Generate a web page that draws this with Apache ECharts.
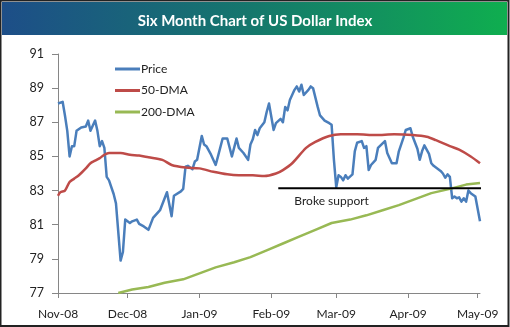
<!DOCTYPE html>
<html>
<head>
<meta charset="utf-8">
<script src="https://cdn.jsdelivr.net/npm/echarts@6/dist/echarts.min.js"></script>
<style>
  html, body { margin: 0; padding: 0; background: #fff; }
  #chart { width: 510px; height: 327px; }
</style>
</head>
<body>
<div id="chart"></div>
<script>
// US Dollar Index, Nov 2008 - May 2009
const priceDates = [
  '2008-11-01','2008-11-03','2008-11-04','2008-11-05','2008-11-06','2008-11-07','2008-11-08','2008-11-09',
  '2008-11-11','2008-11-13','2008-11-14','2008-11-15','2008-11-17','2008-11-18','2008-11-19','2008-11-20',
  '2008-11-21','2008-11-22','2008-11-23','2008-11-25','2008-11-26','2008-11-28','2008-11-29','2008-11-30',
  '2008-12-02','2008-12-03','2008-12-05','2008-12-06','2008-12-08','2008-12-10','2008-12-12','2008-12-15',
  '2008-12-18','2008-12-20','2008-12-21','2008-12-24','2008-12-25','2008-12-26','2008-12-27','2008-12-29',
  '2008-12-30','2008-12-31','2009-01-02','2009-01-03','2009-01-04','2009-01-06','2009-01-08','2009-01-09',
  '2009-01-11','2009-01-13','2009-01-15','2009-01-17','2009-01-18','2009-01-20','2009-01-22','2009-01-23',
  '2009-01-24','2009-01-25','2009-01-26','2009-01-27','2009-01-29','2009-01-30','2009-01-31','2009-02-02',
  '2009-02-03','2009-02-05','2009-02-06','2009-02-07','2009-02-08','2009-02-09','2009-02-11','2009-02-12',
  '2009-02-13','2009-02-14','2009-02-15','2009-02-17','2009-02-18','2009-02-19','2009-02-21','2009-02-22',
  '2009-02-24','2009-02-26','2009-02-27','2009-02-28','2009-03-01','2009-03-02','2009-03-03','2009-03-04',
  '2009-03-05','2009-03-06','2009-03-08','2009-03-09','2009-03-10','2009-03-12','2009-03-13','2009-03-14',
  '2009-03-15','2009-03-16','2009-03-18','2009-03-19','2009-03-22','2009-03-23','2009-03-25','2009-03-27',
  '2009-03-28','2009-03-30','2009-03-31','2009-04-02','2009-04-03','2009-04-05','2009-04-06','2009-04-07',
  '2009-04-08','2009-04-10','2009-04-11','2009-04-12','2009-04-15','2009-04-16','2009-04-17','2009-04-18',
  '2009-04-19','2009-04-20','2009-04-21','2009-04-22','2009-04-23','2009-04-24','2009-04-25','2009-04-26',
  '2009-04-27','2009-04-28','2009-04-30','2009-05-02'
];
const priceValues = [
  88.1, 88.2, 87.4, 86.5, 85.0, 85.6, 85.6, 86.5,
  86.7, 86.75, 87.1, 86.5, 87.1, 86.5, 85.6, 85.9,
  85.5, 83.8, 83.6, 82.8, 82.25, 78.9, 79.4, 81.3,
  81.1, 81.2, 81.3, 81.05, 80.9, 80.7, 81.4, 81.85,
  82.9, 81.5, 82.7, 82.95, 83.1, 84.4, 84.45, 84.25,
  84.7, 84.8, 86.2, 85.7, 85.6, 85.1, 84.5, 85.0,
  86.05, 86.05, 85.0, 86.05, 85.5, 85.2, 84.8, 85.7,
  86.0, 86.55, 86.25, 86.65, 87.0, 87.6, 88.1, 86.55,
  86.95, 87.2, 87.0, 87.9, 87.7, 88.3, 88.9, 89.1,
  88.8, 89.2, 88.6, 88.9, 89.1, 89.0, 87.9, 87.4,
  87.1, 86.95, 86.85, 84.8, 83.2, 83.9, 83.8, 83.6,
  83.9, 83.7, 83.95, 85.3, 85.8, 85.9, 85.5, 85.6,
  84.2, 84.5, 84.8, 85.5, 85.9, 85.2, 84.6, 84.6,
  85.3, 86.1, 86.55, 86.65, 86.15, 85.45, 84.8, 85.3,
  85.65, 85.15, 84.6, 84.45, 84.15, 84.0, 83.75, 83.95,
  83.8, 82.55, 82.65, 82.55, 82.6, 82.35, 82.55, 82.35,
  83.0, 82.85, 82.65, 81.2
];

// 50-day moving average
const dma50Dates = [
  '2008-11-01','2008-11-02','2008-11-04','2008-11-06','2008-11-08','2008-11-10','2008-11-13','2008-11-15',
  '2008-11-17','2008-11-19','2008-11-21','2008-11-23','2008-11-28','2008-12-02','2008-12-06','2008-12-10',
  '2008-12-16','2008-12-20','2008-12-26','2009-01-01','2009-01-07','2009-01-13','2009-01-18','2009-01-24',
  '2009-01-29','2009-02-03','2009-02-06','2009-02-10','2009-02-16','2009-02-20','2009-02-26','2009-03-03',
  '2009-03-10','2009-03-18','2009-03-26','2009-04-03','2009-04-09','2009-04-13','2009-04-19','2009-04-23',
  '2009-04-28','2009-05-02'
];
const dma50Values = [
  82.7, 82.9, 83.0, 83.5, 83.7, 83.9, 84.3, 84.6,
  84.75, 84.9, 85.1, 85.2, 85.2, 85.1, 85.05, 84.95,
  84.8, 84.5, 84.35, 84.3, 84.1, 83.95, 83.9, 83.9,
  83.85, 84.0, 84.2, 84.6, 85.5, 85.85, 86.2, 86.3,
  86.3, 86.25, 86.3, 86.25, 86.15, 85.95, 85.6, 85.4,
  85.0, 84.6
];

// 200-day moving average
const dma200Dates = [
  '2008-11-27','2008-12-03','2008-12-10','2008-12-17','2008-12-25','2009-01-01','2009-01-08','2009-01-16',
  '2009-01-23','2009-01-30','2009-02-06','2009-02-13','2009-02-20','2009-02-27','2009-03-07','2009-03-14',
  '2009-03-21','2009-03-28','2009-04-04','2009-04-11','2009-04-19','2009-04-26','2009-05-02'
];
const dma200Values = [
  77.0, 77.2, 77.35, 77.6, 77.8, 78.15, 78.5, 78.8,
  79.1, 79.5, 79.9, 80.3, 80.7, 81.1, 81.3, 81.55,
  81.85, 82.15, 82.5, 82.85, 83.1, 83.35, 83.45
];

// support level annotation
const supportDates = ['2009-02-04', '2009-05-08'];
const supportLevel = 83.13;
const supportNote = { date: '2009-02-27', value: 82.41, text: 'Broke support' };

const yMin = 77, yMax = 91, yStep = 2;
const xStart = '2008-11-01', xEnd = '2009-05-02';
const monthNames = ['Jan','Feb','Mar','Apr','May','Jun','Jul','Aug','Sep','Oct','Nov','Dec'];

const FONT = 'Lato, "Liberation Sans", sans-serif';
const pair = (ds, vs) => ds.map((d, i) => [d, vs[i]]);

const chart = echarts.init(document.getElementById('chart'), null, { renderer: 'canvas' });

chart.setOption({
  backgroundColor: '#ffffff',
  animation: false,
  graphic: [
    {
      type: 'rect', z: -1,
      shape: { x: 2, y: 2, width: 505, height: 33 },
      style: {
        fill: new echarts.graphic.LinearGradient(0, 0, 1, 0, [
          { offset: 0, color: '#1d4e88' },
          { offset: 0.5, color: '#15786c' },
          { offset: 1, color: '#0fae4f' }
        ])
      }
    },
    {
      type: 'rect', z: 10,
      shape: { x: 0.5, y: 0.5, width: 508, height: 325.5 },
      style: { fill: 'none', stroke: '#222222', lineWidth: 2 }
    }
  ],
  title: {
    text: 'Six Month Chart of US Dollar Index',
    left: 'center', top: 9,
    textStyle: { color: '#ffffff', fontFamily: FONT, fontWeight: 'bold', fontSize: 15 }
  },
  legend: {
    left: 110, top: 58, orient: 'vertical',
    icon: 'path://M0,0 L25,0 L25,3 L0,3 Z',
    symbolKeepAspect: true,
    itemWidth: 25, itemHeight: 14, itemGap: 9.5,
    data: ['Price', '50-DMA', '200-DMA'],
    textStyle: { fontFamily: FONT, fontSize: 12, color: '#222', padding: [0, 0, 0, -4] }
  },
  grid: { left: 58, right: 30, top: 54, bottom: 34, containLabel: false },
  xAxis: {
    type: 'time',
    min: xStart, max: xEnd,
    splitNumber: 6,
    axisLine: { lineStyle: { color: '#868686', width: 1 } },
    axisTick: { show: true, length: 5, lineStyle: { color: '#868686' } },
    minorTick: { show: false },
    splitLine: { show: false },
    axisLabel: {
      margin: 15, fontFamily: FONT, fontSize: 12, color: '#222',
      showMaxLabel: false,
      formatter: v => {
        const d = new Date(v);
        return monthNames[d.getMonth()] + '-' + String(d.getFullYear()).slice(2);
      }
    }
  },
  yAxis: {
    type: 'value', min: yMin, max: yMax, interval: yStep,
    axisLine: { show: true, lineStyle: { color: '#868686', width: 1 } },
    axisTick: { show: true, length: 6, lineStyle: { color: '#868686' } },
    splitLine: { show: false },
    axisLabel: { margin: 14, fontFamily: FONT, fontSize: 12.5, color: '#222' }
  },
  series: [
    {
      name: 'Price', type: 'line', data: pair(priceDates, priceValues),
      symbol: 'none', color: '#4a7ebb',
      lineStyle: { width: 2.5, color: '#4a7ebb', join: 'round' }
    },
    {
      name: '50-DMA', type: 'line', data: pair(dma50Dates, dma50Values),
      symbol: 'none', smooth: 0.3, color: '#be4b48',
      lineStyle: { width: 2.5, color: '#be4b48' }
    },
    {
      name: '200-DMA', type: 'line', data: pair(dma200Dates, dma200Values),
      symbol: 'none', color: '#98b954',
      lineStyle: { width: 2.5, color: '#98b954' }
    },
    {
      name: 'support', type: 'line', clip: false, z: 5,
      data: supportDates.map(d => [d, supportLevel]),
      symbol: 'none', silent: true,
      lineStyle: { width: 2, color: '#000000' },
      markPoint: {
        symbol: 'circle', symbolSize: 0,
        data: [{ coord: [supportNote.date, supportNote.value] }],
        label: {
          show: true, position: 'inside', formatter: supportNote.text,
          fontFamily: FONT, fontSize: 12, color: '#222'
        }
      }
    }
  ]
});
</script>
</body>
</html>
